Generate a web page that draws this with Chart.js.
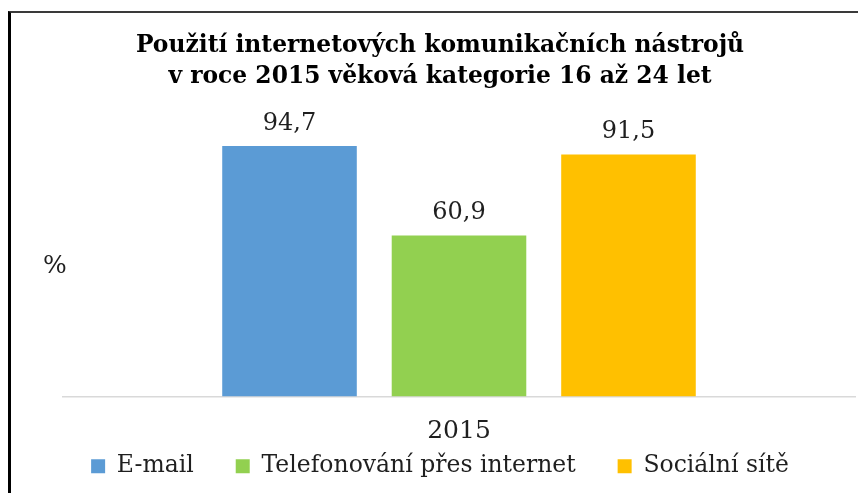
<!DOCTYPE html>
<html>
<head>
<meta charset="utf-8">
<script src="https://cdn.jsdelivr.net/npm/chart.js@4/dist/chart.umd.min.js"></script>
<style>
  html, body { margin: 0; padding: 0; background: #fff; overflow: hidden; }
  #wrap { position: relative; width: 858px; height: 493px; }
  #c { position: absolute; left: 0; top: 0; }
  #frame { position: absolute; left: 8px; top: 11px; width: 900px; height: 600px;
           border-left: 3px solid #000; border-top: 2px solid #3a3a3a; pointer-events: none; }
</style>
</head>
<body>
<div id="wrap">
  <canvas id="c" width="858" height="493"></canvas>
  <div id="frame"></div>
</div>
<script>
const titleLines = ['Použití internetových komunikačních nástrojů', 'v roce 2015 věková kategorie 16 až 24 let'];
const categories = ['2015'];
const seriesNames = ['E-mail', 'Telefonování přes internet', 'Sociální sítě'];
const emailValues = [94.7];
const phoneValues = [60.9];
const socialValues = [91.5];
const seriesColors = ['#5B9BD5', '#92D050', '#FFC000'];
const yAxisLabel = '%';

const FONT = "'DejaVu Serif', serif";

const valueLabels = {
  id: 'valueLabels',
  afterDatasetsDraw(chart) {
    const ctx = chart.ctx;
    ctx.save();
    ctx.font = '24px ' + FONT;
    ctx.fillStyle = '#1f1f1f';
    ctx.textAlign = 'center';
    ctx.textBaseline = 'alphabetic';
    chart.data.datasets.forEach((ds, i) => {
      const meta = chart.getDatasetMeta(i);
      meta.data.forEach((bar, j) => {
        const txt = String(ds.data[j]).replace('.', ',');
        ctx.fillText(txt, bar.x, bar.y - 16);
      });
    });
    ctx.restore();
  }
};

const yTitle = {
  id: 'yTitle',
  afterDraw(chart) {
    const ctx = chart.ctx;
    const a = chart.chartArea;
    ctx.save();
    ctx.font = '25px ' + FONT;
    ctx.fillStyle = '#1f1f1f';
    ctx.textAlign = 'center';
    ctx.textBaseline = 'middle';
    ctx.fillText(yAxisLabel, a.left - 8, (a.top + a.bottom) / 2 + 2);
    ctx.restore();
  }
};

// let the x tick labels extend below the (shrunk) axis box so the legend may sit close
const xLabelRoom = {
  id: 'xLabelRoom',
  afterLayout(chart) {
    chart.scales.x.bottom = chart.height;
  }
};

const datasets = [emailValues, phoneValues, socialValues].map((vals, i) => ({
  label: seriesNames[i],
  data: vals,
  backgroundColor: seriesColors[i],
  borderWidth: 0,
  categoryPercentage: 0.642,
  barPercentage: 0.794
}));

new Chart(document.getElementById('c'), {
  type: 'bar',
  data: { labels: categories, datasets },
  options: {
    responsive: false,
    devicePixelRatio: 1,
    animation: false,
    layout: { padding: { left: 25, right: 3, top: 0, bottom: 5 } },
    plugins: {
      title: {
        display: true,
        text: titleLines,
        color: '#000',
        font: { family: FONT, size: 23.4, weight: 'bold', lineHeight: '31px' },
        padding: { top: 30, bottom: 40 }
      },
      legend: {
        position: 'bottom',
        labels: {
          color: '#1f1f1f',
          font: { family: FONT, size: 23.5 },
          boxWidth: 14,
          boxHeight: 14,
          padding: 42
        }
      },
      tooltip: { enabled: false }
    },
    scales: {
      x: {
        grid: { display: false },
        border: { display: true, color: '#D9D9D9', width: 1.5 },
        ticks: { color: '#1f1f1f', font: { family: FONT, size: 25 }, padding: 12 },
        afterFit(s) { s.height = 16; }
      },
      y: {
        min: 0,
        max: 100,
        grid: { display: false },
        border: { display: false },
        ticks: { display: false },
        afterFit(s) { s.width = 38; }
      }
    }
  },
  plugins: [valueLabels, yTitle, xLabelRoom]
});
</script>
</body>
</html>
